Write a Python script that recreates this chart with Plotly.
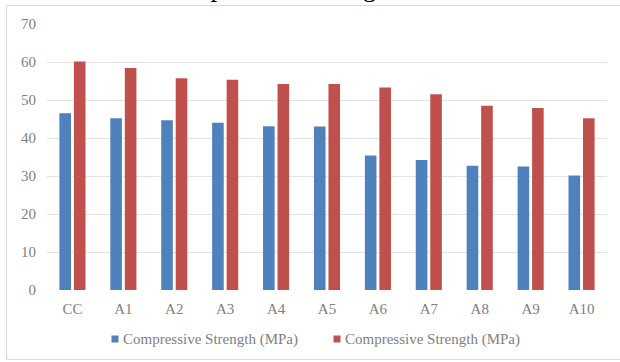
import plotly.graph_objects as go

categories = ["CC", "A1", "A2", "A3", "A4", "A5", "A6", "A7", "A8", "A9", "A10"]
series1_name = "Compressive Strength (MPa)"
series1_values = [46.5, 45.2, 44.7, 44.0, 43.1, 43.0, 35.4, 34.2, 32.7, 32.5, 30.1]
series2_name = "Compressive Strength (MPa)"
series2_values = [60.1, 58.4, 55.7, 55.3, 54.2, 54.2, 53.3, 51.5, 48.5, 47.9, 45.2]
y_ticks = [0, 10, 20, 30, 40, 50, 60, 70]
title_text = "Compressive Strength"

BLUE = "#4f81bd"
RED = "#c0504d"
GRAY = "#808080"
FONT = "Times New Roman"

W, H = 620, 362
L, R, T, B = 47, 13, 24, 72
pw, ph = W - L - R, H - T - B

def px_x(x):
    return (x - L) / pw

def px_y(y):
    return (H - B - y) / ph

fig = go.Figure()
fig.add_trace(go.Bar(x=categories, y=series1_values, name=series1_name,
                     marker=dict(color=BLUE, line=dict(width=0)), showlegend=False))
fig.add_trace(go.Bar(x=categories, y=series2_values, name=series2_name,
                     marker=dict(color=RED, line=dict(width=0)), showlegend=False))

fig.update_layout(
    width=W, height=H,
    margin=dict(l=L, r=R, t=T, b=B),
    paper_bgcolor="white", plot_bgcolor="white",
    barmode="group", bargap=0.43, bargroupgap=0.2,
    font=dict(family=FONT, size=15, color=GRAY),
    showlegend=False,
    xaxis=dict(showgrid=False, showline=False, zeroline=False, ticks="",
               tickfont=dict(family=FONT, size=15, color=GRAY), ticklabelstandoff=8),
    yaxis=dict(range=[0, 70], tickvals=y_ticks, showgrid=True, gridcolor="#e3e3e3",
               gridwidth=1, zeroline=False, showline=False, ticks="",
               tickfont=dict(family=FONT, size=15, color=GRAY), ticklabelstandoff=10),
)

# outer chart frame
fig.add_shape(type="rect", xref="paper", yref="paper",
              x0=px_x(6.5), x1=px_x(625), y0=px_y(359.5), y1=px_y(5.5),
              line=dict(color="#d9d9d9", width=1), fillcolor="rgba(0,0,0,0)", layer="below")

# legend (drawn as colour squares + text)
for sq_x, color, name in [(115, BLUE, series1_name), (337, RED, series2_name)]:
    fig.add_shape(type="rect", xref="paper", yref="paper",
                  x0=px_x(sq_x - 3.5), x1=px_x(sq_x + 3.5),
                  y0=px_y(342.5), y1=px_y(335.5),
                  line=dict(width=0), fillcolor=color)
    fig.add_annotation(xref="paper", yref="paper", x=px_x(sq_x + 6), y=px_y(339),
                       xanchor="left", yanchor="middle", showarrow=False,
                       text=name, font=dict(family=FONT, size=15, color=GRAY))

# cropped title at very top
fig.add_annotation(xref="paper", yref="paper", x=px_x(156), y=px_y(4),
                   xanchor="left", yanchor="bottom", showarrow=False,
                   text=title_text, font=dict(family=FONT, size=27, color="black"))

fig.write_html("out.html", post_script="document.body.style.margin='0';",
               config={"displayModeBar": False})
